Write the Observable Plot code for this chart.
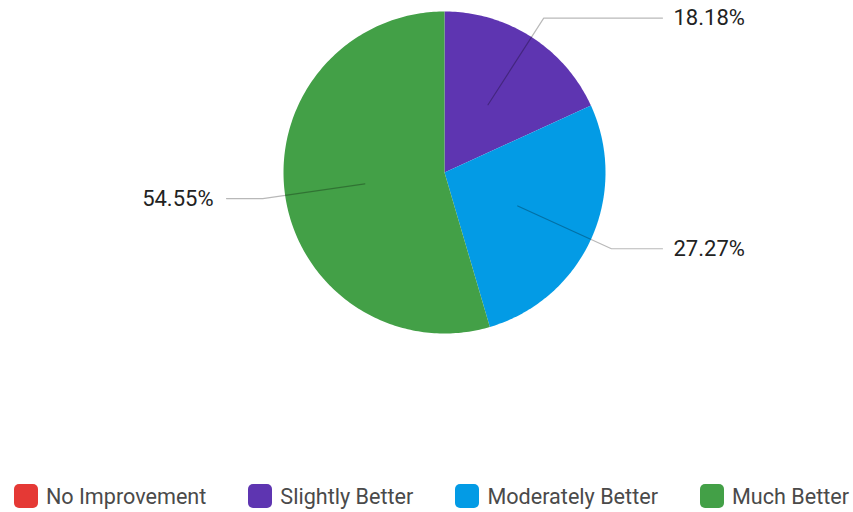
<!DOCTYPE html>
<html>
<head>
<meta charset="utf-8">
<script src="https://cdn.jsdelivr.net/npm/d3@7"></script>
<script src="https://cdn.jsdelivr.net/npm/@observablehq/plot@0.6"></script>
<style>
  body { margin: 0; background: #fff; font-family: Roboto, "Noto Sans", sans-serif; }
  #legend { display: flex; justify-content: center; gap: 42px; margin-top: 13px; height: 26px; align-items: center; padding-left: 10px; }
  .item { display: flex; align-items: center; font-size: 21.6px; color: #4a4a4a; }
  .sw { width: 24px; height: 24px; border-radius: 5px; margin-right: 8px; }
</style>
</head>
<body>
<div id="chart"></div>
<div id="legend"></div>
<script>
const categories = ["No Improvement", "Slightly Better", "Moderately Better", "Much Better"];
const counts = [0, 2, 3, 6];
const colors = ["#e53935", "#5e35b1", "#039be5", "#43a047"];

const W = 853, H = 470, CX = 444, CY = 172, R = 161;
const total = d3.sum(counts);
const pie = d3.pie().sort(null).value(d => d.count)(categories.map((c, i) => ({cat: c, count: counts[i]})));

// polygon points for slices (in radius units; y positive downward)
const pts = [];
pie.forEach(p => {
  if (p.endAngle - p.startAngle <= 0) return;
  pts.push({cat: p.data.cat, x: 0, y: 0});
  const n = Math.max(2, Math.ceil((p.endAngle - p.startAngle) * 60));
  for (let k = 0; k <= n; k++) {
    const a = p.startAngle + (p.endAngle - p.startAngle) * k / n;
    pts.push({cat: p.data.cat, x: Math.sin(a), y: -Math.cos(a)});
  }
});

// leader lines & labels
const lines = [], labels = [];
const colOff = 218 / R;
pie.forEach(p => {
  if (p.data.count === 0) return;
  const a = (p.startAngle + p.endAngle) / 2;
  const s = Math.sin(a), c = -Math.cos(a);
  const right = s >= 0;
  const ex = s * 1.14, ey = c * 1.14;
  const colX = right ? colOff : -colOff;
  lines.push({cat: p.data.cat, x: s * 0.5, y: c * 0.5});
  lines.push({cat: p.data.cat, x: ex, y: ey});
  lines.push({cat: p.data.cat, x: colX, y: ey});
  labels.push({
    x: colX + (right ? 11 : -13) / R,
    y: ey,
    text: (p.data.count / total * 100).toFixed(2) + "%",
    anchor: right ? "start" : "end"
  });
});

const chart = Plot.plot({
  width: W, height: H,
  margin: 0,
  x: {domain: [-CX / R, (W - CX) / R], range: [0, W], axis: null},
  y: {domain: [-CY / R, (H - CY) / R], range: [0, H], axis: null},
  color: {domain: categories, range: colors},
  style: {fontFamily: "Roboto, sans-serif", overflow: "visible"},
  marks: [
    Plot.line(pts, {x: "x", y: "y", z: "cat", fill: "cat", stroke: "none", curve: "linear"}),
    Plot.line(lines, {x: "x", y: "y", z: "cat", stroke: "#000", strokeOpacity: 0.28, strokeWidth: 1.2}),
    Plot.text(labels.filter(d => d.anchor === "start"), {x: "x", y: "y", text: "text", textAnchor: "start", fontSize: 22, fill: "#222", letterSpacing: "0.8px"}),
    Plot.text(labels.filter(d => d.anchor === "end"), {x: "x", y: "y", text: "text", textAnchor: "end", fontSize: 22, fill: "#222", letterSpacing: "0.8px"})
  ]
});
document.getElementById("chart").appendChild(chart);

const legend = document.getElementById("legend");
categories.forEach((c, i) => {
  const it = document.createElement("div");
  it.className = "item";
  const sw = document.createElement("span");
  sw.className = "sw";
  sw.style.background = colors[i];
  it.appendChild(sw);
  it.appendChild(document.createTextNode(c));
  legend.appendChild(it);
});
</script>
</body>
</html>
